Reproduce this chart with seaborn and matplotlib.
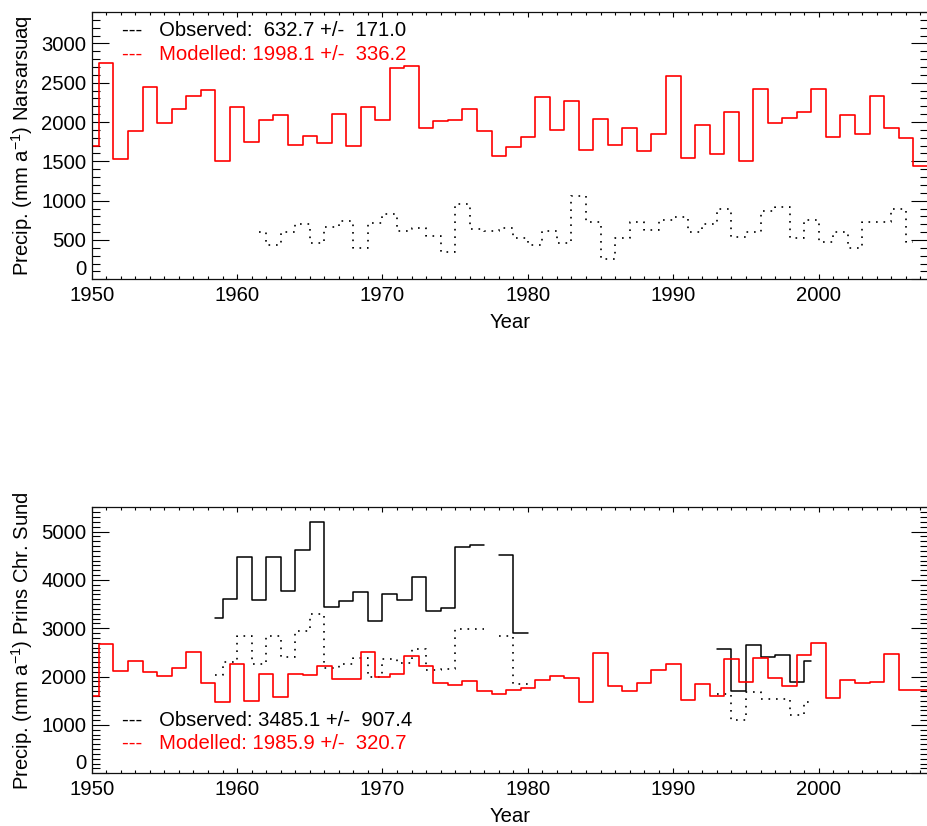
import numpy as np
import pandas as pd
import seaborn as sns
import matplotlib.pyplot as plt
from matplotlib.ticker import MultipleLocator

# modelled series, one value per year 1950-2008
years_mod = np.arange(1950, 2009)
nars_mod = [1695, 2754, 1530, 1881, 2441, 1992, 2169, 2331, 2403, 1504,
            2186, 1746, 2025, 2085, 1712, 1818, 1729, 2097, 1695, 2186,
            2025, 2691, 2708, 1924, 2013, 2021, 2169, 1887, 1573, 1680,
            1809, 2318, 1898, 2267, 1648, 2034, 1708, 1919, 1631, 1843,
            2585, 1538, 1958, 1589, 2123, 1500, 2424, 1987, 2047, 2123,
            2424, 1805, 2089, 1843, 2335, 1919, 1792, 1441, 1650]
prins_mod = [1597, 2670, 2106, 2326, 2092, 2010, 2182, 2512, 1872, 1466,
             2264, 1487, 2058, 1576, 2058, 2030, 2216, 1955, 1955, 2512,
             1989, 2058, 2423, 2216, 1872, 1817, 1906, 1693, 1645, 1727,
             1762, 1920, 2016, 1968, 1473, 2498, 1803, 1700, 1865, 2127,
             2264, 1507, 1851, 1595, 2355, 1880, 2390, 1963, 1810, 2445,
             2685, 1555, 1927, 1865, 1893, 2471, 1727, 1714, 1714]

# observed Narsarsuaq 1961-2006
years_nars = np.arange(1961, 2007)
nars_obs = [597, 436, 597, 699, 458, 669, 746, 394, 712, 835,
            614, 649, 551, 343, 958, 644, 614, 657, 521, 432,
            614, 462, 1059, 729, 263, 521, 729, 627, 754, 797,
            606, 699, 894, 542, 597, 869, 924, 521, 754, 479,
            597, 394, 729, 729, 890, 479]

# observed Prins Christian Sund 1958-1999 (gaps as nan)
nan = np.nan
years_prins = np.arange(1958, 2000)
prins_obs = [3221, 3600, 4473, 3586, 4473, 3778, 4625, 5203, 3448, 3572,
             3758, 3152, 3716, 3579, 4061, 3359, 3414, 4680, 4728, nan,
             4522, 2891, nan, nan, nan, nan, nan, nan, nan, nan,
             nan, nan, nan, nan, nan, 2580, 1710, 2663, 2414, 2443,
             1890, 2325]
prins_obs2 = [2037, 2292, 2842, 2264, 2835, 2395, 2939, 3297, 2182, 2250,
              2381, 1996, 2354, 2271, 2574, 2134, 2161, 2987, 2987, nan,
              2849, 1844, nan, nan, nan, nan, nan, nan, nan, nan,
              nan, nan, nan, nan, nan, 1642, 1104, 1680, 1532, 1532,
              1207, 1482]

nars_txt = ["---   Observed:  632.7 +/-  171.0", "---   Modelled: 1998.1 +/-  336.2"]
prins_txt = ["---   Observed: 3485.1 +/-  907.4", "---   Modelled: 1985.9 +/-  320.7"]


def obs_steps(years, vals):
    # histogram style: each year spans [yr, yr+1], first/last only half
    vals = np.asarray(vals, dtype=float)
    ok = ~np.isnan(vals)
    idx = np.flatnonzero(ok)
    rows = []
    run = 0
    for i in idx:
        if i > idx[0] and not ok[i - 1]:
            run += 1
        lo = years[i] + (0.5 if i == idx[0] else 0.0)
        hi = years[i] + (0.5 if i == idx[-1] else 1.0)
        rows.append((lo, vals[i], run))
        rows.append((hi, vals[i], run))
    return pd.DataFrame(rows, columns=["year", "precip", "run"])


sns.set_style("ticks")
plt.rcParams["font.family"] = ["Liberation Sans", "DejaVu Sans"]
plt.rcParams["mathtext.default"] = "regular"
for k in ["text.color", "axes.labelcolor", "xtick.color", "ytick.color", "axes.edgecolor"]:
    plt.rcParams[k] = "black"
fs = 14.6

fig = plt.figure(figsize=(9.28, 8.26), dpi=100)
ax1 = fig.add_axes([0.0988, 0.6619, 0.9009, 0.3236])
ax2 = fig.add_axes([0.0988, 0.0638, 0.9009, 0.3220])

dots = (0, (1, 3.5))

# top panel
d = obs_steps(years_nars, nars_obs)
sns.lineplot(data=d, x="year", y="precip", units="run", estimator=None, sort=False,
             color="black", lw=1.2, linestyle=dots, ax=ax1, legend=False)
sns.lineplot(x=years_mod, y=nars_mod, color="red", lw=1.2, drawstyle="steps-mid",
             ax=ax1, legend=False)

# bottom panel
d = obs_steps(years_prins, prins_obs2)
sns.lineplot(data=d, x="year", y="precip", units="run", estimator=None, sort=False,
             color="black", lw=1.2, linestyle=dots, ax=ax2, legend=False)
d = obs_steps(years_prins, prins_obs)
sns.lineplot(data=d, x="year", y="precip", units="run", estimator=None, sort=False,
             color="black", lw=1.1, ax=ax2, legend=False)
sns.lineplot(x=years_mod, y=prins_mod, color="red", lw=1.2, drawstyle="steps-mid",
             ax=ax2, legend=False)

for ax, ymax, ymaj, name in [(ax1, 3400, 500, "Narsarsuaq"), (ax2, 5500, 1000, "Prins Chr. Sund")]:
    ax.set_xlim(1950, 2007.5)
    ax.set_ylim(0, ymax)
    ax.set_xticks(np.arange(1950, 2001, 10))
    ax.xaxis.set_minor_locator(MultipleLocator(1))
    ax.set_yticks(np.arange(0, ymax, ymaj))
    ax.yaxis.set_minor_locator(MultipleLocator(100))
    ax.tick_params(which="both", direction="in", top=True, right=True,
                   width=0.8, color="black", labelsize=fs)
    ax.tick_params(axis="x", which="major", length=3.8, pad=4.5)
    ax.tick_params(axis="x", which="minor", length=1.9)
    ax.tick_params(axis="y", which="major", length=12, pad=4)
    ax.tick_params(axis="y", which="minor", length=6)
    for s in ax.spines.values():
        s.set_linewidth(0.9)
        s.set_color("#111111")
    ax.set_xlabel("Year", fontsize=fs, labelpad=6)
    ax.set_ylabel("Precip. (mm a$^{-1}$) " + name, fontsize=fs, labelpad=4)
    # the zero label sits just above the bottom axis, as in the original
    ax.yaxis.get_major_ticks()[0].label1.set_verticalalignment("bottom")

ax1.text(0.036, 0.91, nars_txt[0], transform=ax1.transAxes, fontsize=fs, va="baseline", color="black")
ax1.text(0.036, 0.8215, nars_txt[1], transform=ax1.transAxes, fontsize=fs, va="baseline", color="red")
ax2.text(0.036, 0.179, prins_txt[0], transform=ax2.transAxes, fontsize=fs, va="baseline", color="black")
ax2.text(0.036, 0.090, prins_txt[1], transform=ax2.transAxes, fontsize=fs, va="baseline", color="red")

fig.savefig("out.png", dpi=100)
